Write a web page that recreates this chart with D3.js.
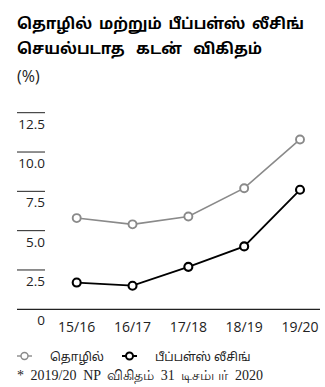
<!DOCTYPE html>
<html>
<head>
<meta charset="utf-8">
<script src="https://cdn.jsdelivr.net/npm/d3@7"></script>
<style>
  html, body { margin: 0; padding: 0; background: #fff; }
  svg { display: block; }
  .tamil { font-family: "Noto Sans Tamil", "Latha", "Noto Sans", "DejaVu Sans", sans-serif; }
</style>
</head>
<body>
<svg id="chart" width="325" height="387"></svg>
<script>
// Non-performing loan ratios by financial year
const categories = ["15/16", "16/17", "17/18", "18/19", "19/20"];
const financeValues = [5.8, 5.4, 5.9, 7.7, 10.8];   // தொழில்
const leasingValues = [1.7, 1.5, 2.7, 4.0, 7.6];    // பீப்பள்ஸ் லீசிங்
const yTicks = [2.5, 5.0, 7.5, 10.0, 12.5];
const titleLines = ["தொழில் மற்றும் பீப்பள்ஸ் லீசிங்", "செயல்படாத கடன் விகிதம்"];
const unitLabel = "(%)";
const legendLabels = ["தொழில்", "பீப்பள்ஸ் லீசிங்"];
const footnote = "* 2019/20 NP விகிதம் 31 டிசம்பர் 2020";

const svg = d3.select("#chart");

const x = d3.scalePoint().domain(categories).range([76.7, 300]);
const y = d3.scaleLinear().domain([0, 12.5]).range([309.3, 112.7]);

// Spread the words of a text line so that it ends at the given x
function spreadTo(sel, right) {
  sel.each(function () {
    const t = d3.select(this);
    const left = +t.attr("x");
    const w = this.getComputedTextLength();
    const gaps = (t.text().match(/ /g) || []).length;
    if (gaps > 0 && w < right - left) t.attr("word-spacing", (right - left - w) / gaps);
  });
}

// Title
const title = svg.append("g").selectAll("text")
  .data(titleLines)
  .join("text")
  .attr("class", "tamil")
  .attr("x", 17)
  .attr("y", (d, i) => 29 + i * 25)
  .attr("font-size", 15.2)
  .attr("font-weight", "bold")
  .attr("fill", "#000")
  .text(d => d);
spreadTo(title.filter((d, i) => i === 0), 304);
spreadTo(title.filter((d, i) => i === 1), 262);

svg.append("text")
  .attr("x", 17).attr("y", 82)
  .attr("font-family", "'Open Sans', sans-serif")
  .attr("font-size", 16)
  .attr("fill", "#222")
  .text(unitLabel);

// Short gridline marks with their labels underneath
const grid = svg.append("g");
grid.selectAll("line")
  .data(yTicks)
  .join("line")
  .attr("x1", 17).attr("x2", 45)
  .attr("y1", d => y(d)).attr("y2", d => y(d))
  .attr("stroke", "#222").attr("stroke-width", 1);
grid.selectAll("text")
  .data([0].concat(yTicks))
  .join("text")
  .attr("x", 45)
  .attr("y", d => y(d) + 16)
  .attr("text-anchor", "end")
  .attr("font-family", "'Open Sans', sans-serif")
  .attr("font-size", 13.5)
  .attr("fill", "#222")
  .text(d => d === 0 ? "0" : d3.format(".1f")(d));

// Baseline
svg.append("line")
  .attr("x1", 17).attr("x2", 320)
  .attr("y1", y(0)).attr("y2", y(0))
  .attr("stroke", "#222").attr("stroke-width", 1.3);

// Category axis labels
svg.append("g").selectAll("text")
  .data(categories)
  .join("text")
  .attr("x", d => x(d))
  .attr("y", 332)
  .attr("text-anchor", "middle")
  .attr("font-family", "'Open Sans', sans-serif")
  .attr("font-size", 14)
  .attr("fill", "#222")
  .text(d => d);

// Series
const series = [
  { values: financeValues, color: "#8a8a8a", width: 1.6 },
  { values: leasingValues, color: "#000", width: 1.8 }
];
const line = d3.line().x((d, i) => x(categories[i])).y(d => y(d));

series.forEach(s => {
  const g = svg.append("g");
  g.append("path")
    .attr("d", line(s.values))
    .attr("fill", "none")
    .attr("stroke", s.color)
    .attr("stroke-width", s.width);
  g.selectAll("circle")
    .data(s.values)
    .join("circle")
    .attr("cx", (d, i) => x(categories[i]))
    .attr("cy", d => y(d))
    .attr("r", 4)
    .attr("fill", "#fff")
    .attr("stroke", s.color)
    .attr("stroke-width", s.width + 0.3);
});

// Legend
const legendItems = [
  { label: legendLabels[0], color: "#8a8a8a", width: 1.4, x: 17, tx: 50 },
  { label: legendLabels[1], color: "#000", width: 2, x: 122, tx: 155 }
];
const lg = svg.append("g");
legendItems.forEach(it => {
  const cy = 356;
  lg.append("line")
    .attr("x1", it.x).attr("x2", it.x + 15)
    .attr("y1", cy).attr("y2", cy)
    .attr("stroke", it.color).attr("stroke-width", it.width);
  lg.append("circle")
    .attr("cx", it.x + 7.5).attr("cy", cy).attr("r", 3.5)
    .attr("fill", "#fff").attr("stroke", it.color).attr("stroke-width", it.width);
  lg.append("text")
    .attr("class", "tamil")
    .attr("x", it.tx).attr("y", cy + 4.5)
    .attr("font-size", 12)
    .attr("fill", "#222")
    .text(it.label);
});

// Footnote
const note = svg.append("text")
  .attr("x", 17).attr("y", 380)
  .attr("font-family", "'Liberation Serif', 'Times New Roman', serif")
  .attr("font-size", 14)
  .attr("fill", "#222")
  .text(footnote);
spreadTo(note, 263);
</script>
</body>
</html>
